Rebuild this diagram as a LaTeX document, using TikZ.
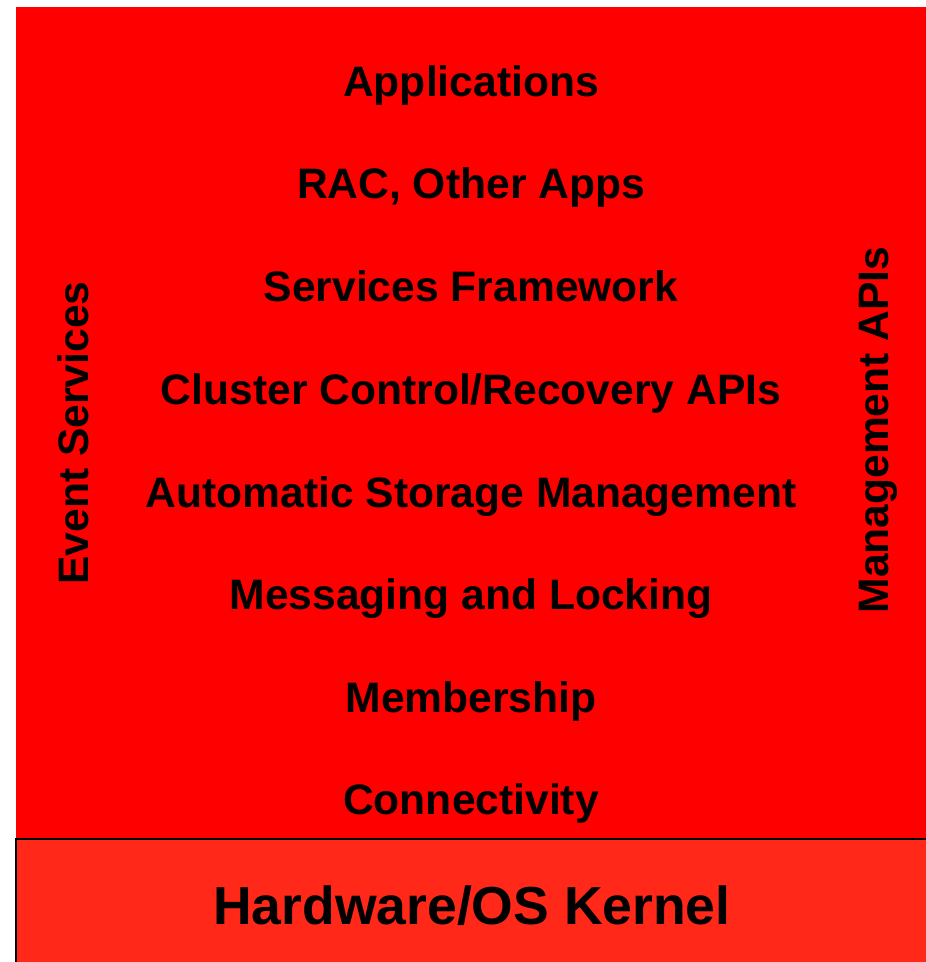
\documentclass[tikz,border=0pt]{standalone}
\usepackage{fontspec}
\setmainfont{Liberation Sans}
\definecolor{stackred}{RGB}{255,0,0}
\definecolor{kernelred}{RGB}{255,40,25}
\begin{document}
\begin{tikzpicture}[x=1pt,y=-1pt,
  layer/.style={font=\bfseries\fontsize{42.6}{42.6}\selectfont, anchor=base, inner sep=0pt},
  side/.style={layer, rotate=90}]
\useasboundingbox (0,0) rectangle (926,962);
\clip (0,0) rectangle (926,962);
% cluster stack
\fill[stackred] (16,7) rectangle (940,839);
% kernel base
\draw[fill=kernelred, line width=2pt] (16,839) rectangle (940,980);
% layers, top to bottom
\node[layer] (apps)  at (471,96)  {Applications};
\node[layer] (rac)   at (471,198) {RAC, Other Apps};
\node[layer] (svc)   at (471,301) {Services Framework};
\node[layer] (ctl)   at (471,404) {Cluster Control/Recovery APIs};
\node[layer] (asm)   at (471,507) {Automatic Storage Management};
\node[layer] (msg)   at (471,609) {Messaging and Locking};
\node[layer] (mem)   at (471,712) {Membership};
\node[layer] (conn)  at (471,814) {Connectivity};
% side columns
\node[side] (events) at (88,433)  {Event Services};
\node[side] (mgmt)   at (888,430) {Management APIs};
% kernel
\node[layer, font=\bfseries\fontsize{53.5}{53.5}\selectfont] (kernel) at (472,924) {Hardware/OS Kernel};
\end{tikzpicture}
\end{document}
